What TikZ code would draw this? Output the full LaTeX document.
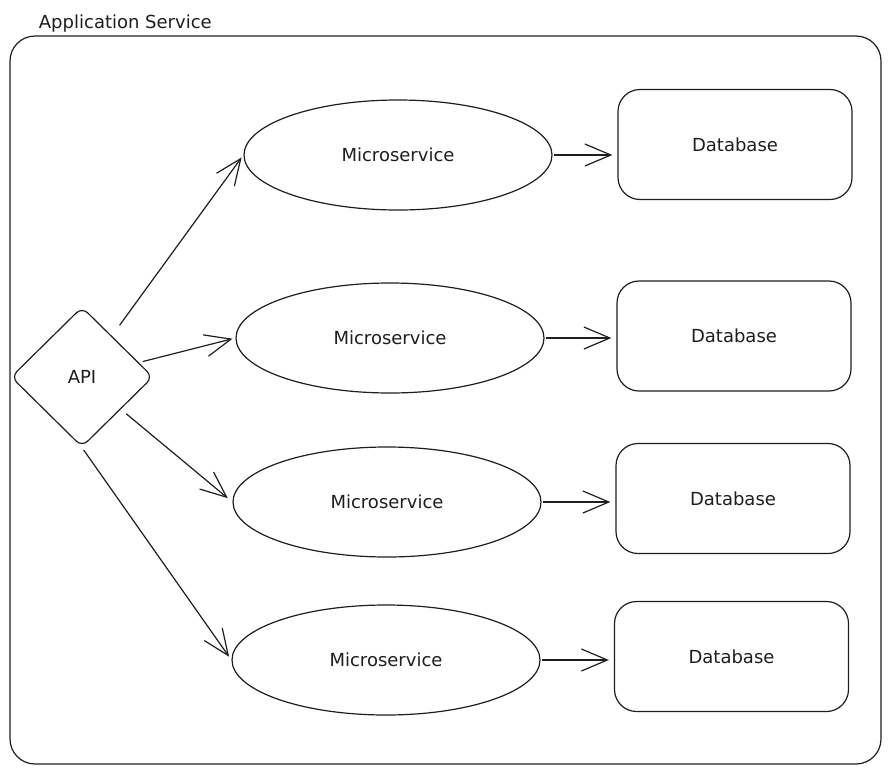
\documentclass[tikz,border=0pt]{standalone}
\usepackage{fontspec}
\setmainfont{DejaVu Sans}
\usepackage{tikz}
\usetikzlibrary{positioning}
\usetikzlibrary{arrows.meta,shapes.geometric}
\definecolor{ink}{HTML}{1E1E1E}

\begin{document}
\begin{tikzpicture}[x=1pt,y=-1pt,line width=1.2pt,color=ink,
    >={Straight Barb[length=26pt,width=22pt]},
    every node/.style={font=\fontsize{18}{22}\selectfont},
    box/.style={draw,rectangle,rounded corners=22pt,minimum width=234pt,minimum height=110pt},
    micro/.style={draw,ellipse,minimum width=308pt,minimum height=110pt},
    gate/.style={draw,diamond,rounded corners=8pt,minimum width=142pt,minimum height=140pt,inner sep=0pt}]
    \useasboundingbox (0,0) rectangle (892,774);
    \node[draw,rounded corners=25pt,minimum width=871pt,minimum height=728pt] (service) at (445.5,400) {};
    \node[anchor=base west] (title) at (35,28) {Application Service};
    \node[gate] (api) at (82,377) {API};
    \node[micro] (ms1) at (398,155) {Microservice};
    \node[micro] (ms2) at (390,338) {Microservice};
    \node[micro] (ms3) at (387,502) {Microservice};
    \node[micro] (ms4) at (386,660) {Microservice};
    \node[box] (db1) at (735,144.5) {Database};
    \node[box] (db2) at (734,336) {Database};
    \node[box] (db3) at (733,498.5) {Database};
    \node[box] (db4) at (731.5,656.5) {Database};
    \draw[->,shorten <=13pt,shorten >=3pt] (api) -- (ms1.west);
    \draw[->,shorten <=4pt,shorten >=3pt] (api) -- (ms2.west);
    \draw[->,shorten <=7pt,shorten >=6pt] (api) -- (ms3.west);
    \draw[->,shorten <=3pt,shorten >=4pt] (api.south) -- (ms4.west);
    \draw[->,shorten <=1pt,shorten >=5pt] (ms1.east) -- (ms1.east -| db1.west);
    \draw[->,shorten <=1pt,shorten >=5pt] (ms2.east) -- (ms2.east -| db2.west);
    \draw[->,shorten <=1pt,shorten >=5pt] (ms3.east) -- (ms3.east -| db3.west);
    \draw[->,shorten <=1pt,shorten >=5pt] (ms4.east) -- (ms4.east -| db4.west);
\end{tikzpicture}
\end{document}
